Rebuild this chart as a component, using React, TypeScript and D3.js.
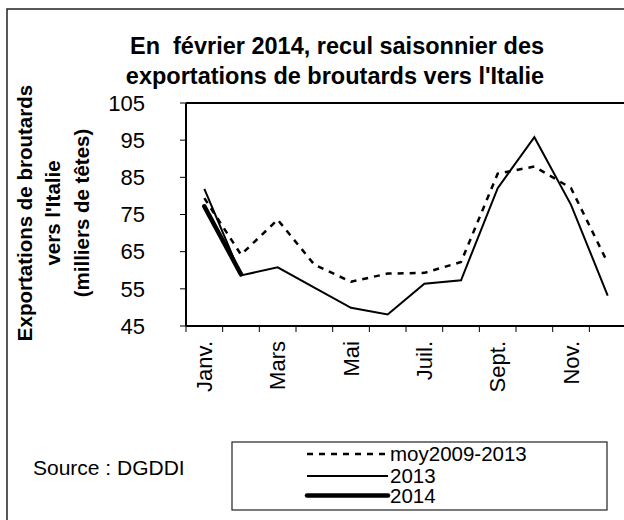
import React from "react";
import * as d3 from "d3";

const months = ["Janv.", "Févr.", "Mars", "Avr.", "Mai", "Juin", "Juil.", "Août", "Sept.", "Oct.", "Nov.", "Déc."];
const shownLabels = ["Janv.", "Mars", "Mai", "Juil.", "Sept.", "Nov."];
const yTicks = [45, 55, 65, 75, 85, 95, 105];

const moy = [79.4, 64.2, 73.6, 61.5, 56.9, 59.1, 59.3, 62.2, 86, 87.9, 82.1, 62];
const s2013 = [81.9, 58.6, 60.8, 55.3, 49.9, 48.1, 56.4, 57.3, 82.1, 95.8, 77.6, 53.2];
const s2014 = [77.2, 58.9];

const W = 624, H = 520;
const left = 186, top = 103, bottom = 326;
const bandW = 36.67;
const font = "Arial, 'Liberation Sans', sans-serif";

export default function App() {
  const x = d3.scaleBand<string>().domain(months).range([left, left + 12 * bandW]).padding(0);
  const y = d3.scaleLinear().domain([45, 105]).range([bottom, top]);
  const cx = (i: number) => (x(months[i]) as number) + x.bandwidth() / 2;
  const line = d3.line<number>().x((_, i) => cx(i)).y((d) => y(d));

  const legend = [
    { label: "moy2009-2013", width: 2.5, dash: "6,6", y: 454 },
    { label: "2013", width: 2, dash: undefined, y: 476 },
    { label: "2014", width: 4.5, dash: undefined, y: 495.5 },
  ];

  return (
    <svg width={W} height={H} style={{ position: "absolute", left: 0, top: 0, background: "#fff" }} fontFamily={font}>
      {/* outer frame */}
      <rect x={7} y={9} width={W + 10} height={H + 10} fill="#fff" stroke="#222" strokeWidth={1.5} />

      {/* title */}
      <text x={337} y={54} textAnchor="middle" fontSize={23.5} fontWeight="bold" style={{ whiteSpace: "pre" }}>En  février 2014, recul saisonnier des</text>
      <text x={335} y={84} textAnchor="middle" fontSize={23.5} fontWeight="bold">exportations de broutards vers l'Italie</text>

      {/* y axis title */}
      <g transform="translate(25,213) rotate(-90)" fontSize={20.5} fontWeight="bold" textAnchor="middle">
        <text x={0} y={0} dy="0.35em">Exportations de broutards</text>
        <text x={0} y={28} dy="0.35em">vers l'Italie</text>
        <text x={0} y={57} dy="0.35em">(milliers de têtes)</text>
      </g>

      {/* plot frame */}
      <line x1={left} x2={W + 5} y1={top} y2={top} stroke="#000" strokeWidth={2} />
      <line x1={left} x2={left} y1={top} y2={bottom} stroke="#000" strokeWidth={2} />
      <line x1={left} x2={W + 5} y1={bottom} y2={bottom} stroke="#000" strokeWidth={2} />

      {/* y ticks */}
      {yTicks.map((t) => (
        <g key={t}>
          <line x1={left - 6} x2={left} y1={y(t)} y2={y(t)} stroke="#000" strokeWidth={1} />
          <text x={145} y={y(t)} dy="0.35em" textAnchor="end" fontSize={22}>{t}</text>
        </g>
      ))}

      {/* x ticks */}
      {months.map((m) => (
        <line key={m} x1={x(m) as number} x2={x(m) as number} y1={bottom} y2={bottom + 6} stroke="#000" strokeWidth={1} />
      ))}
      {months.map((m, i) =>
        shownLabels.includes(m) ? (
          <text key={"l" + m} transform={`translate(${cx(i)},341) rotate(-90)`} dy="0.35em" textAnchor="end" fontSize={22}>{m}</text>
        ) : null
      )}

      {/* series */}
      <path d={line(moy) || ""} fill="none" stroke="#000" strokeWidth={2.5} strokeDasharray="6,6" />
      <path d={line(s2013) || ""} fill="none" stroke="#000" strokeWidth={2} />
      <path d={line(s2014) || ""} fill="none" stroke="#000" strokeWidth={4.5} strokeLinecap="round" />

      {/* source */}
      <text x={33} y={475} fontSize={21}>Source : DGDDI</text>

      {/* legend */}
      <rect x={232} y={442} width={375} height={68} fill="#fff" stroke="#222" strokeWidth={1.2} />
      {legend.map((l) => (
        <g key={l.label}>
          <line x1={307} x2={388} y1={l.y} y2={l.y} stroke="#000" strokeWidth={l.width} strokeDasharray={l.dash} strokeLinecap={l.width > 3 ? "round" : "butt"} />
          <text x={390} y={l.y} dy="0.35em" fontSize={20.5}>{l.label}</text>
        </g>
      ))}
    </svg>
  );
}
